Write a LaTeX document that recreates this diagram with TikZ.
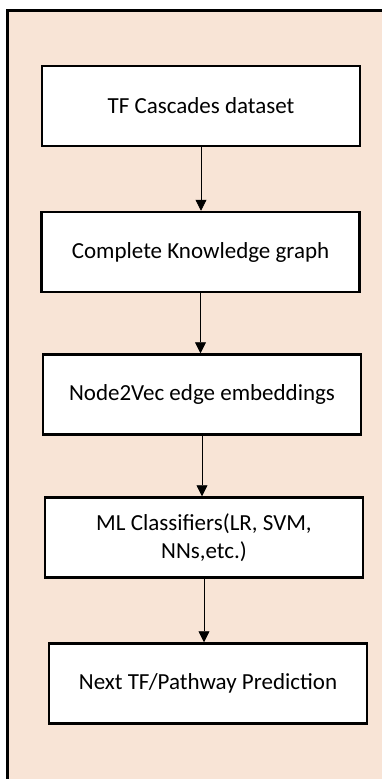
\documentclass[tikz,border=0pt]{standalone}
\usepackage{fontspec}
\setmainfont{Carlito}
\usetikzlibrary{arrows.meta}
\tikzset{>={Triangle[length=11pt,width=11pt]}}
\definecolor{peach}{HTML}{F8E4D6}
\tikzset{
  stage/.style={draw, line width=2.5pt, fill=white, minimum width=318pt,
                minimum height=80pt, align=center, inner sep=2pt,
                font=\fontsize{23}{28}\selectfont},
  flow/.style={->, line width=0.8pt}
}

\begin{document}
\begin{tikzpicture}[x=1pt,y=-1pt]
  \useasboundingbox (0,0) rectangle (382,779);
  \clip (0,0) rectangle (382,779);
  % frame
  \draw[line width=3pt, fill=peach] (7.5,10) rectangle (400,800);
  % stages
  \node[stage] (data) at (201,106)   {TF Cascades dataset};
  \node[stage] (kg)   at (200.5,252) {Complete Knowledge graph};
  \node[stage] (emb)  at (202,394.5) {Node2Vec edge embeddings};
  \node[stage] (clf)  at (204,537.5) {ML Classifiers(LR, SVM,\\NNs,etc.)};
  \node[stage] (pred) at (208,683.5) {Next TF/Pathway Prediction};
  % arrows
  \draw[flow] (data.south) -- (data.south |- kg.north);
  \draw[flow] (kg.south)   -- (kg.south |- emb.north);
  \draw[flow] (emb.south)  -- (emb.south |- clf.north);
  \draw[flow] (clf.south)  -- (clf.south |- pred.north);
\end{tikzpicture}
\end{document}
